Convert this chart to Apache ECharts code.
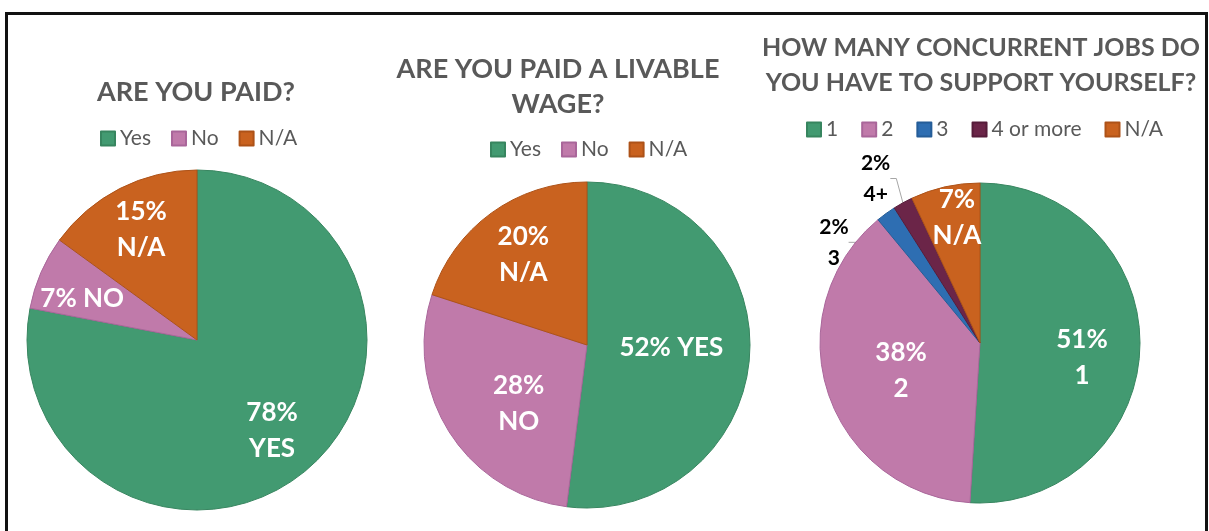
<!DOCTYPE html>
<html>
<head>
<meta charset="utf-8">
<script src="https://cdn.jsdelivr.net/npm/echarts@6/dist/echarts.min.js"></script>
<style>
  html, body { margin: 0; padding: 0; background: #fff; overflow: hidden; }
  #main { position: absolute; left: 0; top: 0; width: 1209px; height: 531px; }
  #frame { position: absolute; left: 5px; top: 12px; width: 1203px; height: 600px;
           box-sizing: border-box; border: 3px solid #111; pointer-events: none; }
</style>
</head>
<body>
<div id="main"></div>
<div id="frame"></div>
<script>
// Survey answers, in percent
const paidCategories = ['Yes', 'No', 'N/A'];
const paidValues = [78, 7, 15];
const paidShort = ['YES', 'NO', 'N/A'];

const livableCategories = ['Yes', 'No', 'N/A'];
const livableValues = [52, 28, 20];
const livableShort = ['YES', 'NO', 'N/A'];

const jobsCategories = ['1', '2', '3', '4 or more', 'N/A'];
const jobsValues = [51, 38, 2, 2, 7];
const jobsShort = ['1', '2', '3', '4+', 'N/A'];

const chartTitles = [
  'ARE YOU PAID?',
  'ARE YOU PAID A LIVABLE\nWAGE?',
  'HOW MANY CONCURRENT JOBS DO\nYOU HAVE TO SUPPORT YOURSELF?'
];

// Palette
const COLORS = {
  'Yes': '#429a71', '1': '#429a71',
  'No': '#c07aaa', '2': '#c07aaa',
  'N/A': '#c9621f',
  '3': '#2e6eb2',
  '4 or more': '#6b2548'
};
const EDGE = {
  '#429a71': '#37855f', '#c07aaa': '#a9669a', '#c9621f': '#ad5218',
  '#2e6eb2': '#255d98', '#6b2548': '#561c3a'
};

const FONT = 'Lato, "Open Sans", sans-serif';
const GREY = '#595959';

// label placement tweaks (separator between value and name, and nudge)
const paidLabelLayout = [
  { sep: '\n', offset: [19, 23] },
  { sep: ' ', offset: [-34, -6] },
  { sep: '\n', offset: [-16, -32] }
];
const livableLabelLayout = [
  { sep: ' ', offset: [0, -3] },
  { sep: '\n', offset: [3, 13] },
  { sep: '\n', offset: [-14, -22] }
];
const jobsLabelLayout = [
  { sep: '\n', offset: [19, 12] },
  { sep: '\n', offset: [0, 2] },
  { sep: '\n', outside: true, length: 4, length2: 30, shift: [0, 32] },
  { sep: '\n', outside: true, length: 22, length2: 6, shift: [9, -5] },
  { sep: '\n', offset: [-5, -44] }
];

function buildData(cats, vals, shorts, layout) {
  return cats.map((c, i) => {
    const col = COLORS[c];
    const lay = layout[i];
    const item = {
      name: c,
      value: vals[i],
      itemStyle: { color: col, borderColor: EDGE[col], borderWidth: 1 }
    };
    const text = vals[i] + '%' + lay.sep + shorts[i];
    if (lay.outside) {
      item.label = {
        position: 'outside', formatter: text, color: '#000',
        fontSize: 21, lineHeight: 31, fontWeight: 'bold', fontFamily: FONT
      };
      item.labelLine = {
        show: true, length: lay.length, length2: lay.length2,
        lineStyle: { color: '#a6a6a6', width: 1 }
      };
    } else {
      item.label = { formatter: text, offset: lay.offset };
      item.labelLine = { show: false };
    }
    return item;
  });
}

function pieSeries(center, radius, data, layout) {
  return {
    type: 'pie',
    center: center,
    radius: radius,
    startAngle: 90,
    clockwise: true,
    avoidLabelOverlap: false,
    animation: false,
    label: {
      show: true,
      position: 'inside',
      color: '#fff',
      fontSize: 26,
      lineHeight: 36,
      fontWeight: 'bold',
      fontFamily: FONT
    },
    // small outside labels: recentre the text block and let the leader line follow it
    labelLayout: function (p) {
      const s = layout[p.dataIndex].shift;
      if (!s) return {};
      const r = p.labelRect;
      return {
        x: r.x + r.width / 2 + s[0],
        y: r.y + r.height / 2 + s[1],
        align: 'center',
        verticalAlign: 'middle'
      };
    },
    emphasis: { disabled: true },
    data: data
  };
}

function legend(names, left, top, gap) {
  return {
    data: names.slice(),
    left: left,
    top: top,
    padding: 0,
    orient: 'horizontal',
    itemWidth: 14,
    itemHeight: 14,
    itemGap: gap,
    icon: 'rect',
    selectedMode: false,
    textStyle: { color: GREY, fontSize: 21, fontFamily: FONT }
  };
}

function title(text, x, top, size) {
  return {
    text: text,
    left: x,
    top: top,
    padding: 0,
    textAlign: 'center',
    textStyle: {
      color: GREY, fontSize: size, fontWeight: 'bold', fontFamily: FONT, lineHeight: 35
    }
  };
}

const chart = echarts.init(document.getElementById('main'), null, { renderer: 'canvas' });
chart.setOption({
  backgroundColor: 'transparent',
  animation: false,
  title: [
    title(chartTitles[0], 196, 75, 27),
    title(chartTitles[1], 558, 52, 27),
    title(chartTitles[2], 981, 30, 25)
  ],
  legend: [
    legend(paidCategories, 100, 128, 20),
    legend(livableCategories, 490, 139, 20),
    legend(jobsCategories, 806, 119, 23)
  ],
  series: [
    pieSeries([197, 340], 170, buildData(paidCategories, paidValues, paidShort, paidLabelLayout), paidLabelLayout),
    pieSeries([587, 345], 163, buildData(livableCategories, livableValues, livableShort, livableLabelLayout), livableLabelLayout),
    pieSeries([980, 343], 160, buildData(jobsCategories, jobsValues, jobsShort, jobsLabelLayout), jobsLabelLayout)
  ]
});
</script>
</body>
</html>
